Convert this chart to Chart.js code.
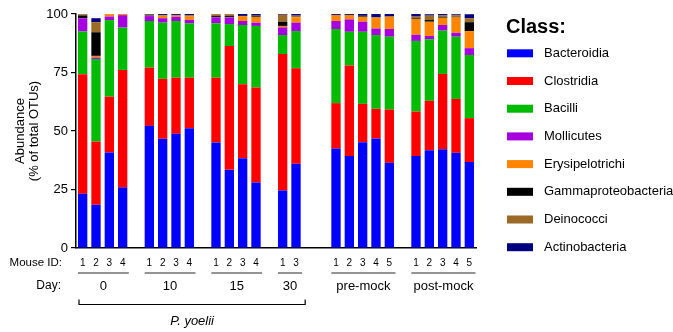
<!DOCTYPE html>
<html>
<head>
<meta charset="utf-8">
<script src="https://cdn.jsdelivr.net/npm/chart.js@4.4.1/dist/chart.umd.min.js"></script>
<style>
  html, body { margin: 0; padding: 0; background: #ffffff; }
  #wrap { width: 673px; height: 332px; position: relative; }
</style>
</head>
<body>
<div id="wrap"><canvas id="c" width="673" height="332"></canvas></div>
<script>
// ---- data ----
// Mouse IDs per slot ('' = empty spacer slot between groups)
const mouseIds = ['1','2','3','4','', '1','2','3','4','', '1','2','3','4','', '1','3','','', '1','2','3','4','5','', '1','2','3','4','5'];
const groupLabels = ['0','10','15','30','pre-mock','post-mock'];
const bracketLabel = 'P. yoelii';
const bracketGroups = 4; // first 4 groups are P. yoelii days
const yTicks = [0, 25, 50, 75, 100];

const classNames = ['Bacteroidia','Clostridia','Bacilli','Mollicutes','Erysipelotrichi','Gammaproteobacteria','Deinococci','Actinobacteria'];
const classColors = ['#0000ff','#ff0000','#00bb00','#a600e0','#ff8400','#000000','#9a6a26','#000080'];

const N = null;
const bacteroidia = [23.2,18.5,40.8,25.9,N, 52.2,46.7,48.8,51.2,N, 45.1,33.4,38.4,28.0,N, 24.6,36.0,N,N, 42.5,39.3,45.2,46.8,36.4,N, 39.3,41.8,42.2,40.7,36.7];
const clostridia  = [51.1,27.0,23.9,50.2,N, 24.9,25.6,24.0,21.6,N, 27.7,52.9,31.6,40.6,N, 58.3,40.8,N,N, 19.4,38.7,16.4,12.7,22.8,N, 19.0,21.1,32.2,23.0,18.8];
const bacilli     = [18.2,35.3,32.7,18.1,N, 19.9,24.0,24.2,23.2,N, 23.2,9.4,25.3,26.3,N, 8.1,15.9,N,N, 31.7,14.4,30.8,31.5,31.1,N, 30.2,26.3,18.5,26.6,27.0];
const mollicutes  = [5.7,0.6,1.5,5.3,N, 2.1,1.9,1.8,1.5,N, 2.6,2.8,1.7,1.4,N, 3.3,3.6,N,N, 3.4,5.3,4.3,2.8,3.3,N, 2.6,1.4,2.4,1.7,2.9];
const erysipelo   = [0.1,0.7,1.0,0.5,N, 0.1,1.1,0.5,1.5,N, 0.1,0.1,2.1,2.5,N, 0.6,2.3,N,N, 2.6,1.9,2.1,4.7,5.3,N, 6.8,6.1,3.1,6.4,7.3];
const gammaproteo = [1.1,10.1,0,0,N, 0.2,0.1,0.1,0.1,N, 0.4,0.5,0.1,0.4,N, 1.8,0,N,N, 0,0,0.3,0.1,0,N, 0.3,0.7,0.4,0,3.8];
const deinococci  = [0.5,4.3,0,0,N, 0.3,0.2,0.2,0.4,N, 0.8,0.8,0,0.1,N, 3.0,0.7,N,N, 0,0,0.1,0,0,N, 0.7,1.9,0.6,1.1,1.7];
const actinobact  = [0.1,1.7,0.1,0,N, 0.3,0.4,0.4,0.5,N, 0.2,0.2,0.8,0.7,N, 0.3,0.7,N,N, 0.4,0.4,0.8,1.4,1.1,N, 1.1,0.6,0.6,0.4,1.7];

const seriesValues = [bacteroidia, clostridia, bacilli, mollicutes, erysipelo, gammaproteo, deinococci, actinobact];

const FONT = "Arial, 'Liberation Sans', Helvetica, sans-serif";

// groups derived from consecutive non-empty mouse IDs
function getGroups() {
  const groups = [];
  let cur = null;
  mouseIds.forEach((id, i) => {
    if (id !== '') {
      if (!cur) { cur = { start: i, end: i }; groups.push(cur); }
      else cur.end = i;
    } else cur = null;
  });
  return groups;
}

const annotations = {
  id: 'annotations',
  afterDraw(chart) {
    const ctx = chart.ctx;
    const xs = chart.scales.x;
    const ys = chart.scales.y;
    const area = chart.chartArea;
    const half = (xs.getPixelForValue(1) - xs.getPixelForValue(0)) * 0.7 / 2;
    ctx.save();
    ctx.fillStyle = '#000';
    // y title
    const cy = (area.top + area.bottom) / 2;
    ctx.font = '13px ' + FONT;
    ctx.textAlign = 'center';
    ctx.textBaseline = 'middle';
    ctx.save(); ctx.translate(20, cy); ctx.rotate(-Math.PI / 2); ctx.fillText('Abundance', 0, 0); ctx.restore();
    ctx.save(); ctx.translate(34, cy); ctx.rotate(-Math.PI / 2); ctx.fillText('(% of total OTUs)', 0, 0); ctx.restore();

    // mouse id row
    const rowId = area.bottom + 15;
    const rowDay = area.bottom + 38;
    ctx.textAlign = 'right';
    ctx.font = '11.5px ' + FONT;
    ctx.fillText('Mouse ID:', 62, rowId);
    ctx.font = '12px ' + FONT;
    ctx.fillText('Day:', 61, rowDay);
    ctx.textAlign = 'center';
    ctx.font = '10px ' + FONT;
    mouseIds.forEach((id, i) => { if (id) ctx.fillText(id, xs.getPixelForValue(i), rowId); });

    const groups = getGroups();
    ctx.strokeStyle = '#707070';
    ctx.lineWidth = 1.5;
    ctx.font = '13px ' + FONT;
    groups.forEach((g, gi) => {
      const l = xs.getPixelForValue(g.start) - half;
      const r = xs.getPixelForValue(g.end) + half + 1.5;
      ctx.beginPath(); ctx.moveTo(l, area.bottom + 25); ctx.lineTo(r, area.bottom + 25); ctx.stroke();
      ctx.fillText(groupLabels[gi], (l + r) / 2, rowDay);
    });

    // bracket
    const bl = xs.getPixelForValue(groups[0].start) - half + 1;
    const br = xs.getPixelForValue(groups[bracketGroups - 1].end) + half + 4.5;
    const by = area.bottom + 56.5;
    ctx.strokeStyle = '#000';
    ctx.lineWidth = 1.2;
    ctx.beginPath();
    ctx.moveTo(bl, by - 5); ctx.lineTo(bl, by); ctx.lineTo(br, by); ctx.lineTo(br, by - 5);
    ctx.stroke();
    ctx.font = 'italic 13px ' + FONT;
    ctx.fillText(bracketLabel, (bl + br) / 2, area.bottom + 73.5);

    // legend
    ctx.textAlign = 'left';
    ctx.font = 'bold 20px ' + FONT;
    ctx.fillText('Class:', 506, 27);
    ctx.font = '13px ' + FONT;
    chart.data.datasets.forEach((ds, i) => {
      const y = 53.3 + i * 27.7;
      ctx.fillStyle = ds.backgroundColor;
      ctx.fillRect(507, y - 4, 26, 8);
      ctx.fillStyle = '#000';
      ctx.fillText(ds.label, 544, y);
    });
    ctx.restore();
  }
};

const datasets = classNames.map((name, i) => ({
  label: name,
  data: seriesValues[i],
  backgroundColor: classColors[i],
  borderWidth: 0,
  categoryPercentage: 1.0,
  barPercentage: 0.7
}));

new Chart(document.getElementById('c'), {
  type: 'bar',
  data: { labels: mouseIds, datasets },
  options: {
    responsive: false,
    animation: false,
    devicePixelRatio: 1,
    layout: { padding: { left: 0, right: 197, top: 14, bottom: 0 } },
    plugins: { legend: { display: false }, tooltip: { enabled: false } },
    scales: {
      x: {
        stacked: true,
        grid: { display: false },
        border: { display: true, color: '#000', width: 1.5 },
        ticks: { display: false },
        afterFit(scale) { scale.height = 84; }
      },
      y: {
        stacked: true,
        min: 0, max: 100,
        afterBuildTicks(scale) { scale.ticks = yTicks.map(v => ({ value: v })); },
        grid: { drawOnChartArea: false, drawTicks: true, tickLength: 5, color: '#000', lineWidth: 1.2 },
        border: { display: true, color: '#000', width: 1.5 },
        ticks: { color: '#000', font: { family: FONT, size: 13 }, padding: 3 },
        afterFit(scale) { scale.width = 76; }
      }
    }
  },
  plugins: [annotations]
});
</script>
</body>
</html>
